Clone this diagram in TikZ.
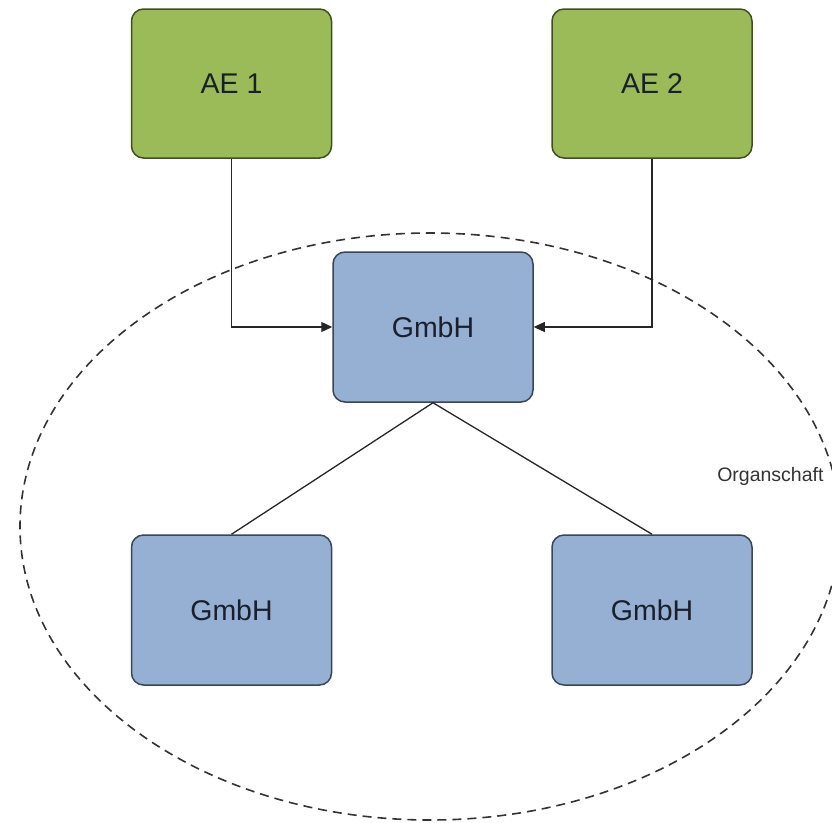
\documentclass[tikz,border=0pt]{standalone}
\usepackage{fontspec}
\setmainfont{Liberation Sans}
\usetikzlibrary{arrows.meta}
\definecolor{aefill}{HTML}{9BBB59}
\definecolor{aedraw}{HTML}{3F4F22}
\definecolor{gfill}{HTML}{95B0D3}
\definecolor{gdraw}{HTML}{3A4556}
\definecolor{txt}{HTML}{1A1F2B}
\tikzset{
  aebox/.style={draw=aedraw, fill=aefill, line width=1.5pt, rounded corners=12pt,
    minimum width=200pt, minimum height=149pt, inner sep=0pt, font=\fontsize{28.5}{32}\selectfont, text=txt},
  gbox/.style={draw=gdraw, fill=gfill, line width=1.5pt, rounded corners=12pt,
    minimum width=200pt, minimum height=150pt, inner sep=0pt, font=\fontsize{28.5}{32}\selectfont, text=txt},
  conn/.style={draw=black!85, line width=1.3pt},
  arr/.style={conn, -{Triangle[length=11pt,width=10pt]}},
  orgline/.style={draw=black!80, line width=1.6pt, dash pattern=on 9pt off 6pt}
}
\begin{document}
\begin{tikzpicture}[x=1pt,y=-1pt]
\useasboundingbox (0,0) rectangle (832,822);
\clip (0,0) rectangle (832,822);
\draw[orgline] (430,526.5) ellipse [x radius=410, y radius=293.5];
\node[aebox] (ae1) at (231.5,83.5) {AE 1};
\node[aebox] (ae2) at (652,83.5) {AE 2};
\node[gbox] (g0) at (433,327) {GmbH};
\node[gbox] (g1) at (231.5,610) {GmbH};
\node[gbox] (g2) at (652,610) {GmbH};
\node[font=\fontsize{19.5}{22}\selectfont, text=black!80, anchor=east] (org) at (827,476) {Organschaft};
\draw[arr] (ae1.south) |- (g0.west);
\draw[arr] (ae2.south) |- (g0.east);
\draw[conn] (g0.south) -- (g1.north);
\draw[conn] (g0.south) -- (g2.north);
\end{tikzpicture}
\end{document}
